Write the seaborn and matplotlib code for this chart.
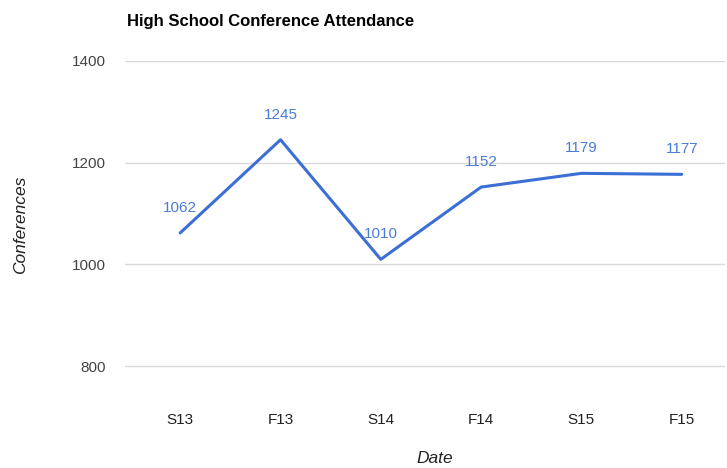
import matplotlib
matplotlib.use("Agg")
import matplotlib.pyplot as plt
import seaborn as sns
import pandas as pd

dates = ["S13", "F13", "S14", "F14", "S15", "F15"]
conferences = [1062, 1245, 1010, 1152, 1179, 1177]
y_ticks = [800, 1000, 1200, 1400]

LINE = "#3c6fd6"
LABEL = "#4a7bd8"

sns.set_theme(style="white")
plt.rcParams["font.family"] = ["Liberation Sans", "DejaVu Sans"]

df = pd.DataFrame({"Date": dates, "Conferences": conferences})

fig = plt.figure(figsize=(7.27, 4.68), dpi=100)
ax = fig.add_axes([0.172, 0.212, 0.825, 0.658])

sns.lineplot(data=df, x="Date", y="Conferences", ax=ax, color=LINE,
             linewidth=2.2, sort=False)

for i, v in enumerate(conferences):
    ax.annotate(str(v), (i, v), xytext=(0, 18), textcoords="offset points",
                ha="center", va="center", fontsize=11, color=LABEL)

ax.set_ylim(795, 1400)
ax.set_xlim(-0.55, 5.43)
ax.set_yticks(y_ticks)
ax.grid(axis="y", color="#d9d9d9", linewidth=1)
ax.set_axisbelow(True)
for s in ax.spines.values():
    s.set_visible(False)
ax.tick_params(axis="y", length=0, pad=14, labelsize=11, labelcolor="#444444")
ax.tick_params(axis="x", length=0, pad=32, labelsize=11, labelcolor="#222222")

ax.set_xlabel("")
ax.set_ylabel("")
fig.text(0.598, 0.021, "Date", fontstyle="italic", fontsize=12.5, color="#222222",
         ha="center", va="center")
fig.text(0.028, 0.519, "Conferences", fontstyle="italic", fontsize=12.5, color="#222222",
         ha="center", va="center", rotation=90)
fig.text(0.175, 0.955, "High School Conference Attendance", fontsize=12,
         fontweight="bold", color="#000000", ha="left", va="center")

fig.savefig("out.png", dpi=100)
